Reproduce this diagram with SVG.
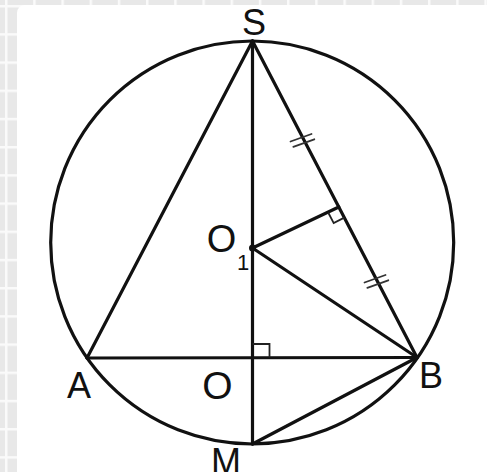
<svg xmlns="http://www.w3.org/2000/svg" width="487" height="472" viewBox="0 0 487 472">
  <defs>
    <pattern id="grid" x="5" y="5" width="28.2" height="28.2" patternUnits="userSpaceOnUse">
      <rect width="28.2" height="28.2" fill="#e8e8e8"/>
      <rect x="0" y="0" width="2.5" height="28.2" fill="#fafafa"/>
      <rect x="0" y="0" width="28.2" height="2.5" fill="#fafafa"/>
    </pattern>
    <style>
      .ln { stroke: #111; stroke-width: 3.2; fill: none; stroke-linecap: round; }
      .thin { stroke: #222; stroke-width: 1.8; fill: none; }
      .tick { stroke: #333; stroke-width: 1.8; fill: none; stroke-linecap: round; }
      .lbl { font-family: "Liberation Sans", Arial, sans-serif; font-size: 36px; fill: #111; }
    </style>
  </defs>

  <!-- background -->
  <rect width="487" height="472" fill="url(#grid)"/>
  <rect x="17" y="5" width="480" height="480" rx="8" fill="#ffffff"/>

  <!-- circle -->
  <g id="circle">
    <circle class="ln" cx="252.2" cy="242.5" r="201.5"/>
  </g>

  <!-- connectors -->
  <g id="connectors">
    <line class="ln" x1="252.5" y1="41" x2="87" y2="358"/>
    <line class="ln" x1="252.5" y1="41" x2="417" y2="357.5"/>
    <line class="ln" x1="252.5" y1="41" x2="252.5" y2="444"/>
    <line class="ln" x1="87" y1="358" x2="417" y2="357.5"/>
    <line class="ln" x1="252.5" y1="248" x2="417" y2="357.5"/>
    <line class="ln" x1="252.5" y1="248" x2="338.8" y2="207"/>
    <line class="ln" x1="252.5" y1="444" x2="417" y2="357.5"/>
    <!-- right angle marks -->
    <path class="thin" d="M252.5,344 H269.5 V357.5"/>
    <path class="thin" d="M344.3,217.6 L333.7,223.1 L328.2,212.5"/>
    <!-- equal-length ticks -->
    <line class="tick" x1="290.5" y1="141.5" x2="311.5" y2="134"/>
    <line class="tick" x1="293.3" y1="146.8" x2="314.3" y2="139.3"/>
    <line class="tick" x1="364.5" y1="282.5" x2="385.5" y2="275"/>
    <line class="tick" x1="367.3" y1="287.8" x2="388.3" y2="280.3"/>
  </g>

  <g id="node-O1">
    <circle cx="252.5" cy="248" r="3.5" fill="#111"/>
    <text class="lbl" x="221.5" y="252" text-anchor="middle" style="font-size:38px">O</text>
    <text class="lbl" x="237" y="270" style="font-size:22px">1</text>
  </g>
  <g id="node-S"><text class="lbl" x="254" y="35" text-anchor="middle">S</text></g>
  <g id="node-A"><text class="lbl" x="79" y="398" text-anchor="middle">A</text></g>
  <g id="node-B"><text class="lbl" x="419" y="388">B</text></g>
  <g id="node-O"><text class="lbl" x="217.5" y="399" text-anchor="middle" style="font-size:39px">O</text></g>
  <g id="node-M"><text class="lbl" x="226" y="474" text-anchor="middle">M</text></g>
</svg>
